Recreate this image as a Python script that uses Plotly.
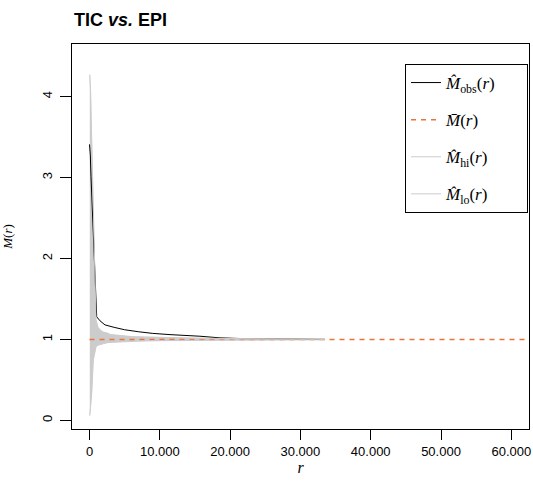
import plotly.graph_objects as go

# ---- data ----
obs_r = [0, 115, 213, 400, 540, 680, 825, 925, 1025, 1500, 2200, 3500, 5000, 7000, 9000,
         11450, 14000, 15700, 18560, 22000, 26000, 30000, 33500]
obs_m = [3.41, 3.28, 3.01, 2.60, 2.23, 1.94, 1.57, 1.40, 1.28, 1.23, 1.18, 1.15, 1.12, 1.095, 1.075,
         1.06, 1.05, 1.04, 1.02, 1.01, 1.01, 1.005, 1.00]

env_r = [40, 140, 313, 540, 640, 925, 1200, 1600, 2000, 2500, 3000, 4000, 5000, 6000, 8000,
         10000, 13000, 16000, 20000, 25000, 30000, 33500]
hi_m = [4.27, 4.10, 3.45, 2.60, 2.23, 1.24, 1.15, 1.11, 1.09, 1.08, 1.06, 1.05, 1.04, 1.035, 1.03,
        1.025, 1.02, 1.015, 1.012, 1.01, 1.008, 1.006]
lo_m = [0.06, 0.15, 0.34, 0.75, 0.80, 0.91, 0.93, 0.94, 0.95, 0.96, 0.965, 0.97, 0.975, 0.98, 0.983,
        0.986, 0.99, 0.992, 0.994, 0.995, 0.996, 0.997]

mean_r = [0, 64000]
mean_m = [1.0, 1.0]

x_ticks = [0, 10000, 20000, 30000, 40000, 50000, 60000]
x_labels = ["0", "10.000", "20.000", "30.000", "40.000", "50.000", "60.000"]
y_ticks = [0, 1, 2, 3, 4]
y_labels = ["0", "1", "2", "3", "4"]

GREY = "#CCCCCC"
ORANGE = "#E8743B"
SERIF = "Liberation Serif"
SANS = "Liberation Sans"
PAD = "\u00a0" * 6

W, H = 533, 483

fig = go.Figure()

# envelope band
fig.add_trace(go.Scatter(
    x=env_r + env_r[::-1], y=hi_m + lo_m[::-1],
    fill="toself", fillcolor=GREY, line=dict(color=GREY, width=0.5),
    mode="lines", showlegend=False, hoverinfo="skip"))

fig.add_trace(go.Scatter(x=obs_r, y=obs_m, mode="lines",
                         line=dict(color="black", width=1), legendgroup="a",
                         name="<i>M̂</i><sub>obs</sub>(<i>r</i>)" + PAD, legendrank=1))
fig.add_trace(go.Scatter(x=mean_r, y=mean_m, mode="lines",
                         line=dict(color=ORANGE, width=1.5, dash="5px,5px"), legendgroup="b",
                         name="<i>M̄</i>(<i>r</i>)", legendrank=2))
fig.add_trace(go.Scatter(x=env_r, y=hi_m, mode="lines",
                         line=dict(color=GREY, width=1), legendgroup="c",
                         name="<i>M̂</i><sub>hi</sub>(<i>r</i>)", legendrank=3))
fig.add_trace(go.Scatter(x=env_r, y=lo_m, mode="lines",
                         line=dict(color=GREY, width=1), legendgroup="d",
                         name="<i>M̂</i><sub>lo</sub>(<i>r</i>)", legendrank=4))

fig.update_layout(
    width=W, height=H,
    margin=dict(l=72, r=4, t=44, b=54, autoexpand=False),
    plot_bgcolor="white", paper_bgcolor="white",
    title=dict(text="<b>TIC <i>vs.</i> EPI</b>", x=74 / W, xanchor="left",
               y=1 - 20 / H, yanchor="middle",
               font=dict(family=SANS, size=18, color="black")),
    legend=dict(x=(405 - 72) / 457, y=(429 - 64) / 385, xanchor="left", yanchor="top",
                bordercolor="black", borderwidth=1, bgcolor="white",
                font=dict(family=SERIF, size=17, color="black"),
                tracegroupgap=12, itemwidth=30),
    xaxis=dict(range=[-2490, 62517], tickvals=x_ticks, ticktext=x_labels, automargin=False,
               showgrid=False, zeroline=False, showline=True, mirror=True,
               linecolor="black", linewidth=1, ticks="outside", ticklen=10,
               tickcolor="black", tickfont=dict(family=SANS, size=13, color="black"),
               title=dict(text="<i>r</i>", font=dict(family=SERIF, size=16, color="black"),
                          standoff=4)),
    yaxis=dict(range=[-0.106, 4.65], tickvals=y_ticks, ticktext=y_labels, tickangle=-90,
               automargin=False, ticklabelstandoff=3,
               showgrid=False, zeroline=False, showline=True, mirror=True,
               linecolor="black", linewidth=1, ticks="outside", ticklen=11,
               tickcolor="black", tickfont=dict(family=SANS, size=13, color="black"),
               title=dict(text="<i>M</i>(<i>r</i>)", font=dict(family=SERIF, size=13, color="black"),
                          standoff=25)),
)

fig.write_html("out.html", config={"displayModeBar": False},
               post_script="document.body.style.margin='0';document.body.style.overflow='hidden';")
